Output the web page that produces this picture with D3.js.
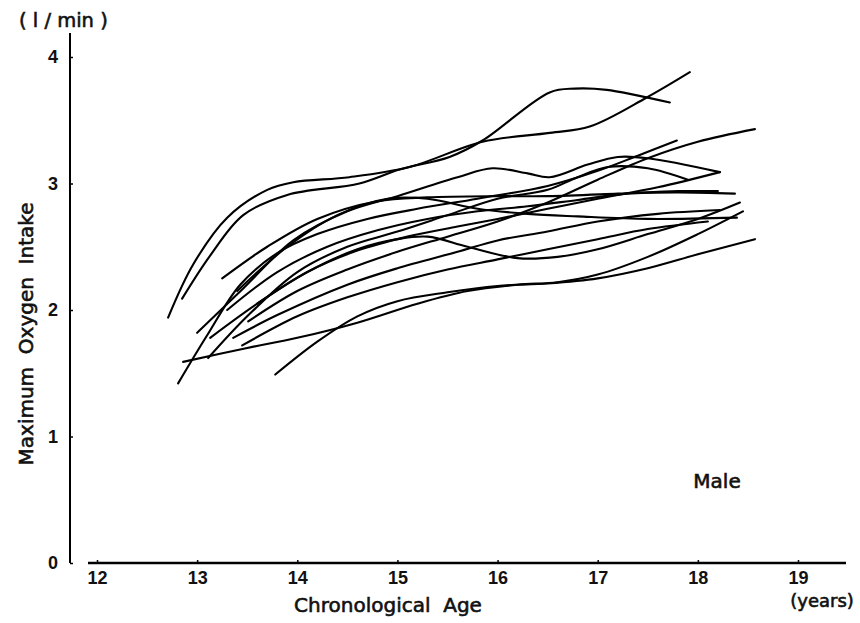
<!DOCTYPE html>
<html>
<head>
<meta charset="utf-8">
<script src="https://cdn.jsdelivr.net/npm/d3@7/dist/d3.min.js"></script>
<style>
  html, body { margin: 0; padding: 0; background: #fff; }
  svg { display: block; }
  text { font-family: "DejaVu Sans", "Liberation Sans", sans-serif; fill: #111; }
  text.lbl { stroke: #111; stroke-width: 0.6px; }
</style>
</head>
<body>
<svg id="chart" width="860" height="623"></svg>
<script>
// Longitudinal maximum oxygen intake curves, one per boy (age in years, l/min)
const xTicks = [12, 13, 14, 15, 16, 17, 18, 19];
const yTicks = [0, 1, 2, 3, 4];

const boy01 = [[12.71,1.94],[12.96,2.36],[13.30,2.73],[13.70,2.95],[13.96,3.01],[14.52,3.05],[15.12,3.13],[15.85,3.33],[16.52,3.40],[16.92,3.45],[17.49,3.68],[17.92,3.88]];
const boy02 = [[12.85,2.09],[13.13,2.43],[13.46,2.75],[13.90,2.91],[14.62,3.00],[15.02,3.11],[15.52,3.21],[15.85,3.34],[16.52,3.72],[16.77,3.75],[17.09,3.74],[17.72,3.64]];
const boy03 = [[13.00,1.82],[13.46,2.17],[13.96,2.55],[14.50,2.78],[15.00,2.90],[15.60,3.05],[15.95,3.12],[16.30,3.08],[16.52,3.05],[16.90,3.15],[17.20,3.21],[17.50,3.20],[18.22,3.09]];
const boy04 = [[13.11,1.62],[13.50,1.95],[14.00,2.30],[14.50,2.50],[15.00,2.62],[15.50,2.75],[16.00,2.88],[16.50,2.95],[16.80,3.05],[17.10,3.13],[17.50,3.12],[17.90,3.03]];
const boy05 = [[13.60,2.05],[14.10,2.30],[14.60,2.47],[15.10,2.58],[15.60,2.66],[16.00,2.72],[16.50,2.80],[17.00,2.88],[17.60,2.97],[18.22,3.09]];
const boy06 = [[13.51,1.91],[14.00,2.15],[14.50,2.32],[15.00,2.46],[15.50,2.58],[16.00,2.70],[16.50,2.85],[17.00,3.03],[17.50,3.20],[18.00,3.33],[18.57,3.43]];
const boy07 = [[12.81,1.42],[13.10,1.80],[13.43,2.20],[13.80,2.45],[14.20,2.60],[14.70,2.72],[15.20,2.80],[15.80,2.88],[16.50,2.98],[17.00,3.10],[17.40,3.22],[17.79,3.34]];
const boy08 = [[13.25,2.25],[13.70,2.50],[14.20,2.72],[14.80,2.86],[15.30,2.89],[16.00,2.90],[16.50,2.90],[17.20,2.92],[17.80,2.94],[18.20,2.94]];
const boy09 = [[13.30,2.00],[13.80,2.30],[14.30,2.50],[14.80,2.63],[15.30,2.72],[15.80,2.78],[16.30,2.82],[16.80,2.87],[17.30,2.92],[17.80,2.93],[18.37,2.92]];
const boy10 = [[13.36,1.78],[13.80,1.96],[14.50,2.20],[15.00,2.33],[15.60,2.46],[16.00,2.55],[16.50,2.62],[17.00,2.70],[17.60,2.76],[18.22,2.79]];
const boy11 = [[13.40,2.15],[13.90,2.50],[14.40,2.75],[14.90,2.88],[15.30,2.88],[15.80,2.80],[16.30,2.76],[16.80,2.74],[17.50,2.72],[18.39,2.73]];
const boy12 = [[13.13,1.78],[13.60,2.05],[14.10,2.30],[14.60,2.48],[15.00,2.56],[15.30,2.58],[15.70,2.50],[16.20,2.41],[16.60,2.42],[17.00,2.48],[17.50,2.60],[18.00,2.72],[18.42,2.85]];
const boy13 = [[12.86,1.59],[13.50,1.70],[14.00,1.78],[14.60,1.90],[15.20,2.05],[15.70,2.15],[16.20,2.20],[16.60,2.22],[17.00,2.28],[17.50,2.42],[18.00,2.60],[18.45,2.78]];
const boy14 = [[13.78,1.49],[14.20,1.75],[14.60,1.95],[15.00,2.07],[15.50,2.14],[16.00,2.19],[16.50,2.21],[17.00,2.25],[17.50,2.33],[18.00,2.44],[18.57,2.56]];
const boy15 = [[13.45,1.72],[14.00,1.95],[14.50,2.10],[15.00,2.22],[15.50,2.32],[16.00,2.40],[16.50,2.48],[17.00,2.56],[17.50,2.64],[18.10,2.70]];

const curves = [boy01, boy02, boy03, boy04, boy05, boy06, boy07, boy08, boy09, boy10, boy11, boy12, boy13, boy14, boy15];

const svg = d3.select("#chart");

const x = d3.scaleLinear().domain([12, 19]).range([97, 798]);
const y = d3.scaleLinear().domain([0, 4]).range([563, 57]);

// growth curves
const line = d3.line()
  .x(d => x(d[0]))
  .y(d => y(d[1]))
  .curve(d3.curveCatmullRom.alpha(0.5));

svg.append("g")
  .selectAll("path")
  .data(curves)
  .join("path")
  .attr("d", line)
  .attr("fill", "none")
  .attr("stroke", "#000")
  .attr("stroke-width", 2.1)
  .attr("stroke-linecap", "round");

// y axis
const yAxis = d3.axisLeft(y)
  .tickValues(yTicks)
  .tickFormat(d3.format("d"))
  .tickSizeInner(-3)
  .tickSizeOuter(0)
  .tickPadding(12);

const gy = svg.append("g").attr("transform", "translate(70,0)").call(yAxis);
gy.select(".domain").remove();
gy.selectAll(".tick line").attr("stroke", "#000").attr("stroke-width", 1.5);
gy.selectAll(".tick text").style("font-size", "18px").style("font-weight", "bold")
  .style("font-family", "'Liberation Sans', Arial, sans-serif");
gy.append("line")
  .attr("x1", 0).attr("x2", 0)
  .attr("y1", 33).attr("y2", 563)
  .attr("stroke", "#000").attr("stroke-width", 2);

// x axis
const xAxis = d3.axisBottom(x)
  .tickValues(xTicks)
  .tickFormat(d3.format("d"))
  .tickSizeInner(-3)
  .tickSizeOuter(0)
  .tickPadding(8);

const gx = svg.append("g").attr("transform", "translate(0,563)").call(xAxis);
gx.select(".domain").remove();
gx.selectAll(".tick line").attr("stroke", "#000").attr("stroke-width", 1.5);
gx.selectAll(".tick text").style("font-size", "18px").style("font-weight", "bold")
  .style("font-family", "'Liberation Sans', Arial, sans-serif");
gx.append("line")
  .attr("x1", 88).attr("x2", 846)
  .attr("y1", 0).attr("y2", 0)
  .attr("stroke", "#000").attr("stroke-width", 2.6);

// labels
svg.append("text")
  .attr("class", "lbl")
  .attr("x", 19).attr("y", 27)
  .style("font-size", "19.5px")
  .attr("xml:space", "preserve")
  .text("( l / min )");

svg.append("text")
  .attr("class", "lbl")
  .attr("transform", "translate(33,334) rotate(-90)")
  .attr("text-anchor", "middle")
  .style("font-size", "20px")
  .attr("xml:space", "preserve")
  .text("Maximum  Oxygen  Intake");

svg.append("text")
  .attr("class", "lbl")
  .attr("x", 388).attr("y", 612)
  .attr("text-anchor", "middle")
  .style("font-size", "20px")
  .attr("xml:space", "preserve")
  .text("Chronological  Age");

svg.append("text")
  .attr("class", "lbl")
  .attr("x", 822).attr("y", 607)
  .attr("text-anchor", "middle")
  .style("font-size", "18px")
  .text("(years)");

svg.append("text")
  .attr("class", "lbl")
  .attr("x", 717).attr("y", 488)
  .attr("text-anchor", "middle")
  .style("font-size", "20px")
  .text("Male");
</script>
</body>
</html>
